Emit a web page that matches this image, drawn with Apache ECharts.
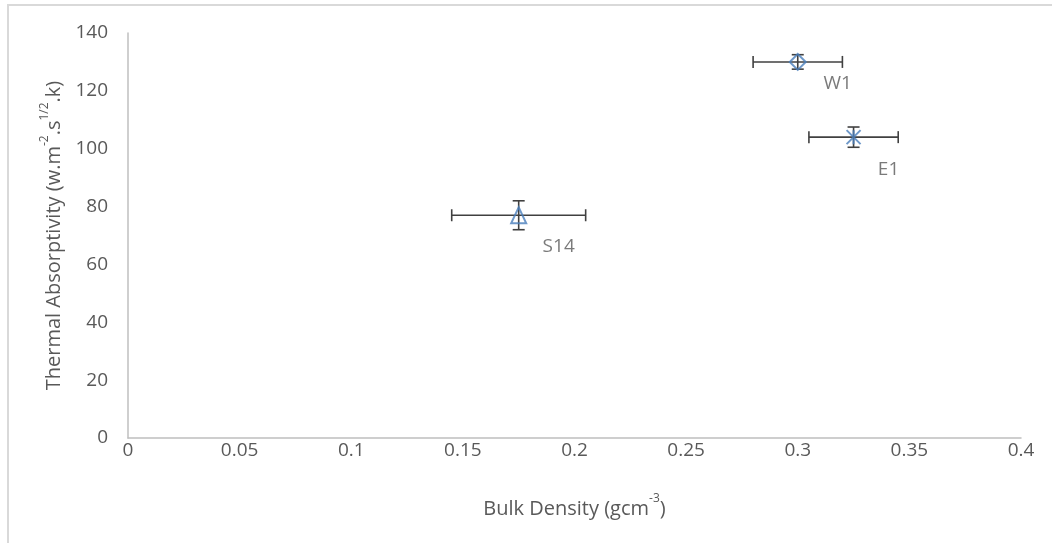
<!DOCTYPE html>
<html>
<head>
<meta charset="utf-8">
<script src="https://cdn.jsdelivr.net/npm/echarts@6/dist/echarts.min.js"></script>
<style>
html,body{margin:0;padding:0;background:#fff;}
#frame{position:absolute;left:7px;top:4px;width:1045px;height:539px;border-left:2px solid #d9d9d9;border-top:2px solid #d9d9d9;box-sizing:border-box;}
#chart{position:absolute;left:0;top:0;width:1052px;height:543px;}
</style>
</head>
<body>
<div id="frame"></div>
<div id="chart"></div>
<script>
const names = ['S14', 'W1', 'E1'];
const density = [0.175, 0.300, 0.325];
const absorptivity = [77, 130, 104];
const densityErr = [0.03, 0.02, 0.02];
const absorptivityErr = [5, 2.5, 3.5];
const xTicks = [0, 0.05, 0.1, 0.15, 0.2, 0.25, 0.3, 0.35, 0.4];
const yTicks = [0, 20, 40, 60, 80, 100, 120, 140];

const symbols = ['triangle', 'diamond', 'path://M0,0L10,10M10,0L0,10M5,0L5,10'];
const labelOffsets = [[40, 31], [40, 22], [35, 32]];

const chart = echarts.init(document.getElementById('chart'), null, {renderer: 'canvas'});
const font = '"Open Sans", sans-serif';
const fs = 19;
const textColor = '#595959';
const axisColor = '#bfbfbf';
const blue = '#4a7ebb';

const errData = names.map((n, i) => [density[i], absorptivity[i], densityErr[i], absorptivityErr[i]]);

const richName = {
  n: {fontFamily: font, fontSize: 20, color: textColor, lineHeight: 26, verticalAlign: 'bottom'},
  s: {fontFamily: font, fontSize: 12, color: textColor, lineHeight: 26, verticalAlign: 'top'}
};

const option = {
  animation: false,
  backgroundColor: 'transparent',
  grid: {left: 128, right: 31, top: 33, bottom: 105},
  xAxis: {
    type: 'value', min: xTicks[0], max: xTicks[xTicks.length - 1], interval: 0.05,
    axisLine: {show: true, lineStyle: {color: axisColor, width: 1.5}},
    axisTick: {show: false},
    splitLine: {show: false},
    axisLabel: {color: textColor, fontFamily: font, fontSize: fs, margin: 3,
      formatter: v => String(+v.toFixed(2))},
    name: '{n|Bulk Density (gcm}{s|-3}{n|)}',
    nameLocation: 'middle', nameGap: 55,
    nameTextStyle: {rich: richName}
  },
  yAxis: {
    type: 'value', min: yTicks[0], max: yTicks[yTicks.length - 1], interval: 20,
    axisLine: {show: true, lineStyle: {color: axisColor, width: 1.5}},
    axisTick: {show: false},
    splitLine: {show: false},
    axisLabel: {color: textColor, fontFamily: font, fontSize: fs, margin: 20},
    name: '{n|Thermal Absorptivity (w.m}{s|-2}{n|.s}{s|1/2}{n|.k)}',
    nameLocation: 'middle', nameGap: 62,
    nameTextStyle: {rich: richName}
  },
  series: [
    {
      type: 'custom',
      z: 1,
      data: errData,
      renderItem: function (params, api) {
        const x = api.value(0), y = api.value(1), dx = api.value(2), dy = api.value(3);
        const l = api.coord([x - dx, y]);
        const r = api.coord([x + dx, y]);
        const t = api.coord([x, y + dy]);
        const b = api.coord([x, y - dy]);
        const cap = 6;
        const style = {stroke: '#404040', lineWidth: 1.6, fill: null};
        const line = (x1, y1, x2, y2) => ({type: 'line', shape: {x1, y1, x2, y2}, style});
        return {
          type: 'group',
          children: [
            line(l[0], l[1], r[0], r[1]),
            line(l[0], l[1] - cap, l[0], l[1] + cap),
            line(r[0], r[1] - cap, r[0], r[1] + cap),
            line(t[0], t[1], b[0], b[1]),
            line(t[0] - cap, t[1], t[0] + cap, t[1]),
            line(b[0] - cap, b[1], b[0] + cap, b[1])
          ]
        };
      }
    },
    {
      type: 'scatter',
      z: 3,
      data: names.map((n, i) => ({
        name: n,
        value: [density[i], absorptivity[i]],
        symbol: symbols[i],
        symbolSize: i === 0 ? [15, 16] : (i === 1 ? [16, 16] : [14, 14]),
        label: {show: true, formatter: n, position: 'inside', offset: labelOffsets[i],
          color: textColor, fontFamily: font, fontSize: fs}
      })),
      itemStyle: {color: 'rgba(0,0,0,0)', borderColor: blue, borderWidth: 2}
    }
  ]
};
chart.setOption(option);
</script>
</body>
</html>
